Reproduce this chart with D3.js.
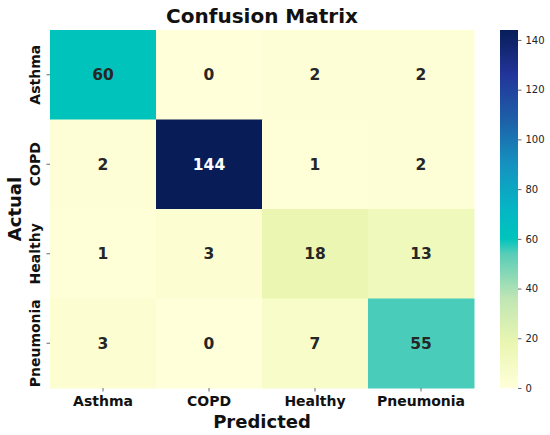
<!DOCTYPE html>
<html>
<head>
<meta charset="utf-8">
<script src="https://cdn.jsdelivr.net/npm/d3@7"></script>
<style>
  body { margin: 0; background: #fff; }
  text { font-family: "DejaVu Sans", sans-serif; }
</style>
</head>
<body>
<div id="chart"></div>
<script>
let labels = ["Asthma", "COPD", "Healthy", "Pneumonia"];
let matrix = [
  [60, 0, 2, 2],
  [2, 144, 1, 2],
  [1, 3, 18, 13],
  [3, 0, 7, 55]
];
let colorTicks = [0, 20, 40, 60, 80, 100, 120, 140];

let width = 550;
let height = 435;
let plotLeft = 50, plotRight = 474, plotTop = 30, plotBottom = 388;
let cbLeft = 500, cbWidth = 18;

// YlGnBu as it looks in the picture
let stops = [0, 18, 36, 54, 60, 72, 90, 108, 126, 144];
let stopColors = ["#ffffd9", "#eaf6b1", "#c0e6b4", "#58cdb8", "#00c4bc", "#05b6c4",
  "#1592c0", "#1d5fa8", "#22359a", "#081d58"];
let color = d3.scaleLinear().domain(stops).range(stopColors).interpolate(d3.interpolateRgb);

let svg = d3.select("#chart")
  .append("svg")
  .attr("width", width)
  .attr("height", height);

let x = d3.scaleBand().domain(labels).range([plotLeft, plotRight]);
let y = d3.scaleBand().domain(labels).range([plotTop, plotBottom]);

let cells = [];
matrix.forEach((row, i) => row.forEach((v, j) => cells.push({ actual: labels[i], pred: labels[j], v: v })));

svg.append("g")
  .selectAll("rect")
  .data(cells)
  .enter()
  .append("rect")
  .attr("x", d => x(d.pred))
  .attr("y", d => y(d.actual))
  .attr("width", x.bandwidth() + 0.5)
  .attr("height", y.bandwidth() + 0.5)
  .attr("fill", d => color(d.v));

svg.append("g")
  .selectAll("text")
  .data(cells)
  .enter()
  .append("text")
  .attr("x", d => x(d.pred) + x.bandwidth() / 2)
  .attr("y", d => y(d.actual) + y.bandwidth() / 2)
  .attr("dy", "0.36em")
  .attr("text-anchor", "middle")
  .style("font-size", "15.5px")
  .style("font-weight", "bold")
  .attr("fill", d => d.v > 90 ? "#ffffff" : "#262626")
  .text(d => d.v);

/* axes */
let xAxis = svg.append("g")
  .attr("transform", `translate(0, ${plotBottom})`)
  .call(d3.axisBottom(x).tickSize(3.5).tickPadding(5));
xAxis.select(".domain").remove();
xAxis.selectAll("line").attr("stroke", "#444").attr("stroke-width", 0.8);
xAxis.selectAll("text")
  .attr("fill", "#111")
  .style("font-size", "14px")
  .style("font-weight", "bold")
  .style("font-family", "DejaVu Sans");

let yAxis = svg.append("g")
  .attr("transform", `translate(${plotLeft}, 0)`)
  .call(d3.axisLeft(y).tickSize(3.5).tickPadding(5));
yAxis.select(".domain").remove();
yAxis.selectAll("line").attr("stroke", "#444").attr("stroke-width", 0.8);
yAxis.selectAll("text")
  .attr("fill", "#111")
  .style("font-size", "14px")
  .style("font-weight", "bold")
  .style("font-family", "DejaVu Sans")
  .attr("text-anchor", "middle")
  .attr("x", 0)
  .attr("dy", 0)
  .attr("transform", "translate(-10, 0) rotate(-90)");

svg.append("text")
  .attr("x", (plotLeft + plotRight) / 2)
  .attr("y", 23)
  .attr("text-anchor", "middle")
  .style("font-size", "20px")
  .style("font-weight", "bold")
  .attr("fill", "#111")
  .text("Confusion Matrix");

svg.append("text")
  .attr("x", (plotLeft + plotRight) / 2)
  .attr("y", 428)
  .attr("text-anchor", "middle")
  .style("font-size", "18px")
  .style("font-weight", "bold")
  .attr("fill", "#111")
  .text("Predicted");

svg.append("text")
  .attr("transform", `translate(21, ${(plotTop + plotBottom) / 2}) rotate(-90)`)
  .attr("text-anchor", "middle")
  .style("font-size", "18px")
  .style("font-weight", "bold")
  .attr("fill", "#111")
  .text("Actual");

/* colorbar */
let cbScale = d3.scaleLinear().domain([0, 144]).range([plotBottom, plotTop]);
let defs = svg.append("defs");
let grad = defs.append("linearGradient")
  .attr("id", "cb")
  .attr("x1", 0).attr("y1", 1).attr("x2", 0).attr("y2", 0);
grad.selectAll("stop")
  .data(stops)
  .enter()
  .append("stop")
  .attr("offset", d => d / 144)
  .attr("stop-color", d => color(d));

svg.append("rect")
  .attr("x", cbLeft)
  .attr("y", plotTop)
  .attr("width", cbWidth)
  .attr("height", plotBottom - plotTop)
  .attr("fill", "url(#cb)");

let cbAxis = svg.append("g")
  .attr("transform", `translate(${cbLeft + cbWidth}, 0)`)
  .call(d3.axisRight(cbScale).tickValues(colorTicks).tickSize(3.5).tickPadding(4));
cbAxis.select(".domain").remove();
cbAxis.selectAll("line").attr("stroke", "#444").attr("stroke-width", 0.8);
cbAxis.selectAll("text")
  .attr("fill", "#222")
  .style("font-size", "10px")
  .style("font-family", "DejaVu Sans");
</script>
</body>
</html>
